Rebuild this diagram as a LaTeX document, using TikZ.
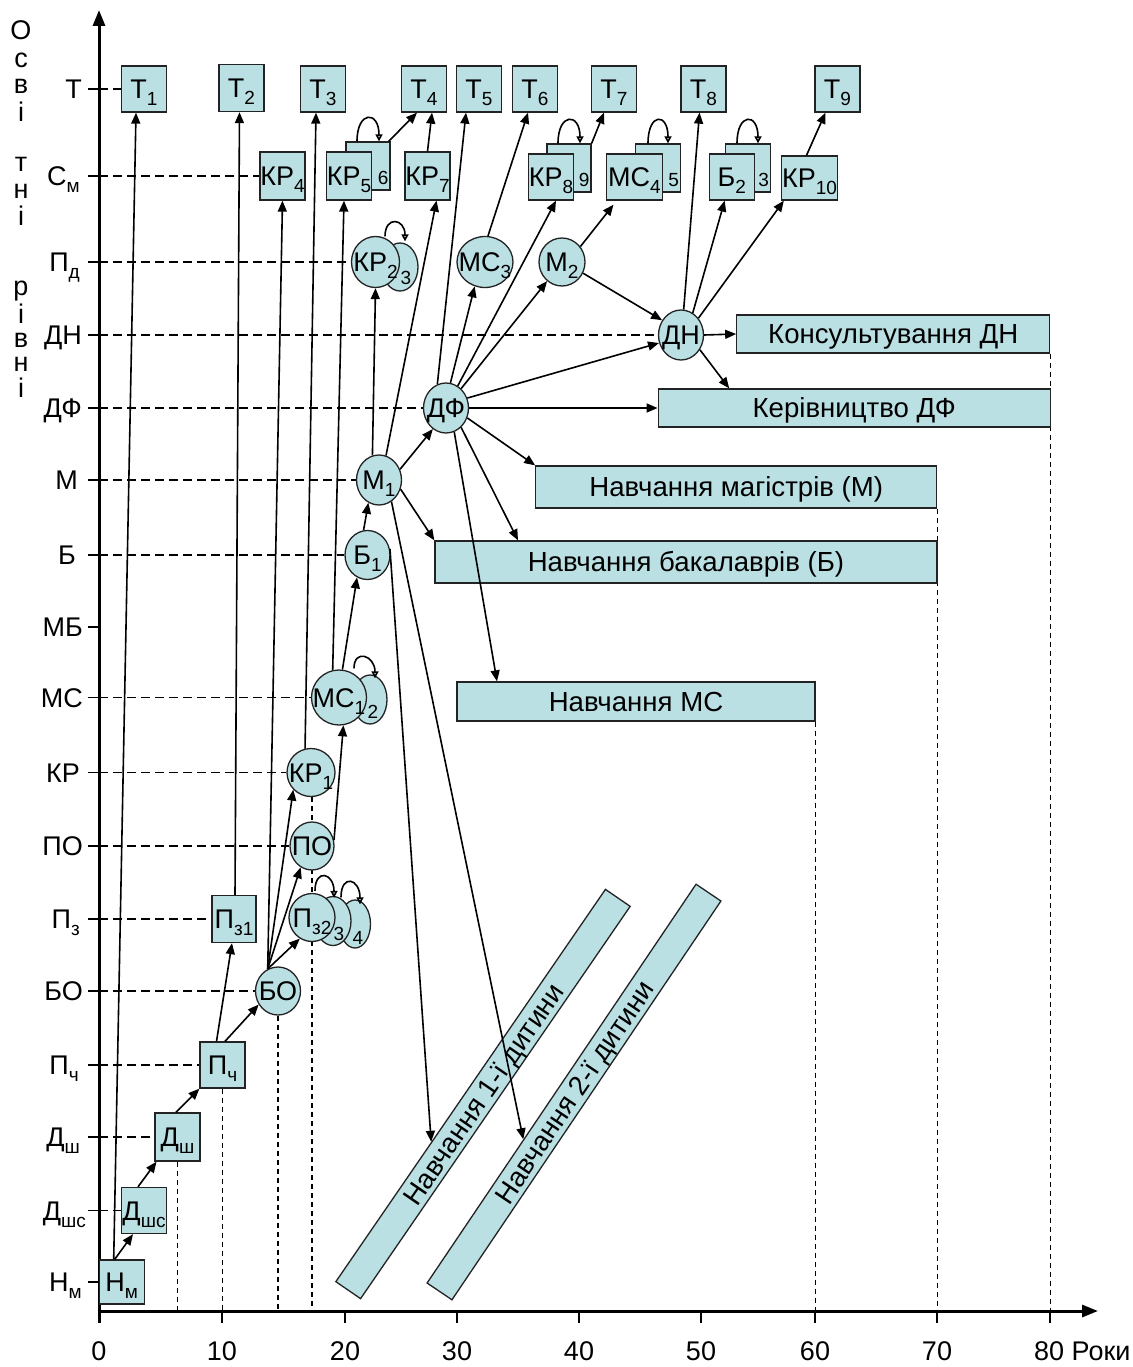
\documentclass[tikz,border=0pt]{standalone}
\usepackage{fontspec}
\setmainfont{Liberation Sans}
\usetikzlibrary{arrows.meta,shapes.geometric,calc}
\definecolor{cfill}{RGB}{187,224,227}
\definecolor{cline}{RGB}{35,35,35}
\newcommand\labf{\fontsize{27pt}{29pt}\selectfont}
\newcommand\wlabf{\fontsize{27.6pt}{29pt}\selectfont}
\newcommand\sbs[1]{\raisebox{-7pt}[0pt][0pt]{\fontsize{19pt}{19pt}\selectfont #1}}
\newcommand\zc[1]{\makebox[0pt]{#1}}
\pgfdeclarelayer{bg}
\pgfsetlayers{bg,main}
\begin{document}
\begin{tikzpicture}[x=1pt,y=-1pt,
  bx/.style={draw=cline, line width=1.3pt, fill=cfill, rectangle, inner sep=0pt, minimum width=45pt, minimum height=46pt, font=\labf, text height=19.5pt, text depth=0pt},
  el/.style={draw=cline, line width=1.3pt, fill=cfill, ellipse, inner sep=0pt, font=\labf, text height=19.5pt, text depth=0pt},
  wbox/.style={draw=cline, line width=1.3pt, fill=cfill, rectangle, inner sep=0pt, font=\wlabf, text height=19.8pt, text depth=0pt},
  arr/.style={line width=1.6pt, -{Triangle[length=11pt,width=9pt]}},
  lp/.style={line width=1.6pt, -{Triangle[length=7pt,width=7pt,fill=cfill]}},
  hd/.style={line width=1.4pt, dash pattern=on 9pt off 5pt},
  vd/.style={line width=1.3pt, dash pattern=on 5pt off 4pt},
  tk/.style={line width=1.5pt},
  axl/.style={font=\labf, inner sep=0pt, text height=19.5pt, text depth=0pt},
  vl/.style={font=\labf, inner sep=0pt},
  dg/.style={font=\fontsize{19pt}{19pt}\selectfont, inner sep=0pt, text height=13.6pt, text depth=0pt}
]
\useasboundingbox (0,0) rectangle (1132,1367);
\begin{pgfonlayer}{bg}
\fill[white] (0,0) rectangle (1132,1367);
\end{pgfonlayer}

% axes
\coordinate (O) at (99,1311);
\coordinate (Ybot) at (99,1323);
\coordinate (Yend) at (99,10);
\coordinate (Xbeg) at (97.5,1311);
\coordinate (Xend) at (1098,1311);
\coordinate (yMB) at (99,627);
\draw[line width=3pt, -{Triangle[length=16pt,width=12pt]}] (Ybot) -- (Yend);
\draw[line width=3pt, -{Triangle[length=16pt,width=12pt]}] (Xbeg) -- (Xend);
\foreach \x in {222,345,457,579,701,815,937,1050} \draw[line width=2pt] (\x,1311) -- (\x,1323);
\foreach \x/\l in {99/0,222/10,345/20,457/30,579/40,701/50,815/60,937/70} \node[axl] (tl\l) at (\x,1351) {\l};
\node[axl, anchor=west] (tl80) at (1034,1351) {80 Роки};

% vertical title
\node[vl, anchor=base] (v1) at (21,40) {О};
\node[vl, anchor=base] (v2) at (21,68) {с};
\node[vl, anchor=base] (v3) at (21,94) {в};
\node[vl, anchor=base] (v4) at (21,122) {і};
\node[vl, anchor=base] (v5) at (21,172) {т};
\node[vl, anchor=base] (v6) at (21,199) {н};
\node[vl, anchor=base] (v7) at (21,225) {і};
\node[vl, anchor=base] (v8) at (21,295) {р};
\node[vl, anchor=base] (v9) at (21,323) {і};
\node[vl, anchor=base] (v10) at (21,347) {в};
\node[vl, anchor=base] (v11) at (21,371) {н};
\node[vl, anchor=base] (v12) at (21,397) {і};

% T row
\node[bx] (T1) at (144,89) {Т\sbs{1}};
\node[bx, minimum height=47pt] (T2) at (241.5,88) {Т\sbs{2}};
\node[bx] (T3) at (323,89) {Т\sbs{3}};
\node[bx] (T4) at (424,89) {Т\sbs{4}};
\node[bx] (T5) at (479,89) {Т\sbs{5}};
\node[bx] (T6) at (535,89) {Т\sbs{6}};
\node[bx] (T7) at (614,89) {Т\sbs{7}};
\node[bx] (T8) at (703.5,89) {Т\sbs{8}};
\node[bx] (T9) at (837.5,89) {Т\sbs{9}};

% Cm row
\node[bx, minimum height=48pt] (KR4) at (282.5,176) {КР\sbs{4}};
\node[bx, minimum width=44pt, minimum height=48pt] (KR6) at (368,166) {};
\node[dg] (KR6l) at ($(KR6.south east)+(-7.5,-13)$) {6};
\draw[lp] ([xshift=-11pt]KR6.north) .. controls +(0,-31) and +(0,-31) .. ([xshift=11pt]KR6.north);
\node[bx, minimum height=48pt] (KR5) at (349,176) {КР\sbs{5}};
\node[bx, minimum height=48pt] (KR7) at (427.5,176) {КР\sbs{7}};
\node[bx, minimum width=44pt, minimum height=48pt] (KR9) at (569,168) {};
\node[dg] (KR9l) at ($(KR9.south east)+(-7.5,-13)$) {9};
\draw[lp] ([xshift=-11pt]KR9.north) .. controls +(0,-31) and +(0,-31) .. ([xshift=11pt]KR9.north);
\node[bx] (KR8) at (551,177) {КР\sbs{8}};
\node[bx, minimum height=48pt] (MC5) at (658,168) {};
\node[dg] (MC5l) at ($(MC5.south east)+(-7.5,-13)$) {5};
\draw[lp] ([xshift=-10pt]MC5.north) .. controls +(0,-31) and +(0,-31) .. ([xshift=10pt]MC5.north);
\node[bx, minimum width=56pt] (MC4) at (634.5,177) {МС\sbs{4}};
\node[bx, minimum height=48pt] (B3) at (748,168) {};
\node[dg] (B3l) at ($(B3.south east)+(-7.5,-13)$) {3};
\draw[lp] ([xshift=-11pt]B3.north) .. controls +(0,-31) and +(0,-31) .. ([xshift=10pt]B3.north);
\node[bx] (B2) at (731.7,177) {Б\sbs{2}};
\node[bx, minimum width=56pt, minimum height=44pt] (KR10) at (809.5,178) {КР\sbs{10}};

% Pd row
\node[el, minimum width=36pt, minimum height=48pt] (KR3) at (400,267) {};
\node[dg] (KR3l) at ($(KR3)+(6,11)$) {3};
\draw[lp] ([xshift=-15pt,yshift=6pt]KR3.north) .. controls +(0,-21) and +(0,-23) .. ([xshift=5pt,yshift=1pt]KR3.north);
\node[el, minimum width=48pt, minimum height=51pt] (KR2) at (375.5,262) {\zc{КР\sbs{2}}};
\node[el, minimum width=56pt, minimum height=51pt] (MC3) at (485,262) {\zc{МС\sbs{3}}};
\node[el, minimum width=46pt, minimum height=48pt] (M2) at (562,262) {\zc{М\sbs{2}}};

% middle circles
\node[el, minimum width=45pt, minimum height=50pt] (DN) at (681,335) {\zc{ДН}};
\node[el, minimum width=45pt, minimum height=50pt] (DF) at (446,408) {\zc{ДФ}};
\node[el, minimum width=45pt, minimum height=50pt] (M1) at (379,480) {\zc{М\sbs{1}}};
\node[el, minimum width=45pt, minimum height=49pt] (B1) at (367.5,555) {\zc{Б\sbs{1}}};
\node[el, minimum width=34pt, minimum height=49pt] (MC2) at (370,699.5) {};
\node[dg] (MC2l) at ($(MC2)+(3,12)$) {2};
\draw[lp] ([xshift=-16pt,yshift=6pt]MC2.north) .. controls +(0,-20) and +(0,-23) .. ([xshift=5pt,yshift=-4pt]MC2.north);
\node[el, minimum width=55pt, minimum height=55pt] (MC1) at (339,697.5) {\zc{МС\sbs{1}}};
\node[el, minimum width=48pt, minimum height=48pt] (KR1) at (311,772.5) {\zc{КР\sbs{1}}};
\node[el, minimum width=44pt, minimum height=48pt] (PO) at (312,846) {\zc{ПО}};
\node[el, minimum width=31pt, minimum height=48pt] (P4) at (355,924) {};
\node[dg] (P4l) at ($(P4)+(3,14)$) {4};
\draw[lp] ([xshift=-14pt,yshift=2pt]P4.north) .. controls +(0,-24) and +(0,-26) .. ([xshift=5pt,yshift=-5pt]P4.north);
\node[el, minimum width=36pt, minimum height=49pt] (P3) at (333,921) {};
\node[dg] (P3l) at ($(P3)+(6,13)$) {3};
\draw[lp] ([xshift=-18pt,yshift=5pt]P3.north) .. controls +(0,-23) and +(0,-25) .. ([xshift=1pt,yshift=-2pt]P3.north);
\node[el, minimum width=46pt, minimum height=48pt] (P2) at (312,917.5) {\zc{П\sbs{з2}}};
\node[el, minimum width=45pt, minimum height=48pt] (BO) at (278,991) {\zc{БО}};

% lower boxes
\node[bx, minimum width=44pt, minimum height=47pt] (Pz1) at (234,919) {П\sbs{з1}};
\node[bx] (Pch) at (222.5,1065) {П\sbs{ч}};
\node[bx, minimum height=48pt] (Dsh) at (177.5,1137) {Д\sbs{ш}};
\node[bx] (Dshs) at (144,1210.5) {Д\sbs{шс}};
\node[bx, minimum height=44pt] (Hm) at (121.7,1282) {Н\sbs{м}};

% wide boxes
\node[wbox, minimum width=313pt, minimum height=38pt] (KonsDN) at (893.3,334) {Консультування ДН};
\node[wbox, minimum width=392pt, minimum height=38pt] (KerDF) at (854.2,408) {Керівництво ДФ};
\node[wbox, minimum width=401pt, minimum height=42pt] (NavM) at (736.3,487) {Навчання магістрів (М)};
\node[wbox, minimum width=502pt, minimum height=42pt] (NavB) at (686,562) {Навчання бакалаврів (Б)};
\node[wbox, minimum width=358pt, minimum height=39pt] (NavMC) at (636,701.5) {Навчання МС};
\node[wbox, minimum width=476pt, minimum height=30pt, rotate=55.5] (Nav1) at (483,1094) {Навчання 1-ї дитини};
\node[wbox, minimum width=481pt, minimum height=30pt, rotate=56] (Nav2) at (574,1092) {Навчання 2-ї дитини};

% level labels, ticks and dashed guides
\foreach \n/\t/\dx in {T1/Т/17, KR4/С\sbs{м}/19, KR2/П\sbs{д}/19, DN/ДН/17, DF/ДФ/17, M1/М/21, B1/Б/23, MC1/МС/16, KR1/КР/19, PO/ПО/16, Pz1/П\sbs{з}/19, BO/БО/16, Pch/П\sbs{ч}/20, Dsh/Д\sbs{ш}/19, Dshs/Д\sbs{шс}/13, Hm/Н\sbs{м}/17} {
  \node[axl, anchor=east] (lab\n) at ($(\n.west -| O)+(-\dx,0)$) {\t};
  \draw[tk] (\n.west -| O) -- ++(-11,0);
}
\node[axl, anchor=east] (labMB) at ($(yMB)+(-16,0)$) {МБ};
\draw[tk] (yMB) -- ++(-11,0);

\begin{pgfonlayer}{bg}
\foreach \n in {T1,KR4,KR2,DN,DF,M1,B1,MC1,KR1,PO,Pz1,BO,Pch,Dsh,Dshs} \draw[hd] (\n.west -| O) -- (\n.west);
\draw[vd] (Dsh.south) -- (Dsh.south |- O);
\draw[vd] (Pch.south) -- (Pch.south |- O);
\draw[vd] (BO.south) -- (BO.south |- O);
\draw[vd] ([xshift=1pt]KR1.south) -- ([xshift=1pt]KR1.south |- O);
\draw[vd] (NavMC.south east) -- (NavMC.south east |- O);
\draw[vd] (NavM.south east) -- (NavM.south east |- O);
\draw[vd] (KonsDN.south east) -- (KonsDN.south east |- O);
\end{pgfonlayer}

% connectors
\draw[arr] ([xshift=-7pt]Hm.north) -- ([xshift=-11pt]Dshs.south);
\draw[arr] ([xshift=-8pt]Hm.north) -- ([xshift=-8pt]T1.south);
\draw[arr] ([xshift=-6pt]Dshs.north) -- ([xshift=-21pt]Dsh.south);
\draw[arr] ([xshift=-1.5pt]Dsh.north) -- (Pch.south west);
\draw[arr] ([xshift=2.5pt]Pch.north) -- (BO.-145);
\draw[arr] ([xshift=-6pt]Pch.north) -- ([xshift=-2pt]Pz1.south);
\draw[arr] ([xshift=1pt]Pz1.north) -- ([xshift=-2pt]T2.south);
\draw[arr] (BO.115) -- (KR4.south);
\draw[arr] (BO.115) -- (P2.-120);
\draw[arr] (BO.115) -- (PO.-118);
\draw[arr] (BO.115) -- (KR1.-136);
\draw[arr] (KR1.104) -- ([xshift=-7pt]T3.south);
\draw[arr] (PO.15) -- (MC1.-81);
\draw[arr] (MC1.103) -- ([xshift=-5pt]KR5.south);
\draw[arr] (MC1.83) -- (B1.-115);
\draw[arr] (B1.99) -- (M1.-115);
\draw[arr] (M1.105) -- (KR2.south);
\draw[arr] (M1.74) -- ([xshift=9pt]KR7.south);
\draw[arr] (M1.27) -- (DF.-122);
\draw[arr] (M1.-23) -- (NavB.north west);
\draw[arr] (M1.-60) -- ($(Nav2.north)!0.28!(Nav2.north west)$);
\draw[arr] (B1.15) -- ($(Nav1.north)!0.288!(Nav1.north west)$);
\draw[arr] (DF.-71) -- ([xshift=-139pt]NavMC.north);
\draw[arr] (DF.-52) -- ([xshift=-168pt]NavB.north);
\draw[arr] (DF.-25) -- (NavM.north west);
\draw[arr] (DF.east) -- (KerDF.west);
\draw[arr] (DF.25) -- (DN.-160);
\draw[arr] (DF.110) -- ([xshift=-13pt]T5.south);
\draw[arr] (DF.80) -- (MC3.-113);
\draw[arr] (DF.62) -- ([xshift=5pt]KR8.south);
\draw[arr] (DF.52) -- (M2.-128);
\draw[arr] ([xshift=3pt]MC3.north) -- ([xshift=-7pt]T6.south);
\draw[arr] (M2.40) -- ([xshift=-21pt,yshift=-4pt]MC4.south);
\draw[arr] (M2.-28) -- (DN.142);
\draw[arr] (DN.84) -- ([xshift=-4pt]T8.south);
\draw[arr] (DN.62) -- ([xshift=-7pt]B2.south);
\draw[arr] (DN.44) -- ([xshift=3pt]KR10.south west);
\draw[arr] (DN.east) -- (KonsDN.west);
\draw[arr] (DN.-38) -- ([xshift=-125pt]KerDF.north);
\draw[arr] ([xshift=-2pt]KR6.north east) -- ([xshift=-7pt]T4.south);
\draw[arr] (KR7.north) -- ([xshift=8pt]T4.south);
\draw[arr] (KR9.north east) -- ([xshift=-10pt]T7.south);
\draw[arr] ([xshift=-3pt]KR10.north) -- ([xshift=-12pt]T9.south);
\end{tikzpicture}
\end{document}
